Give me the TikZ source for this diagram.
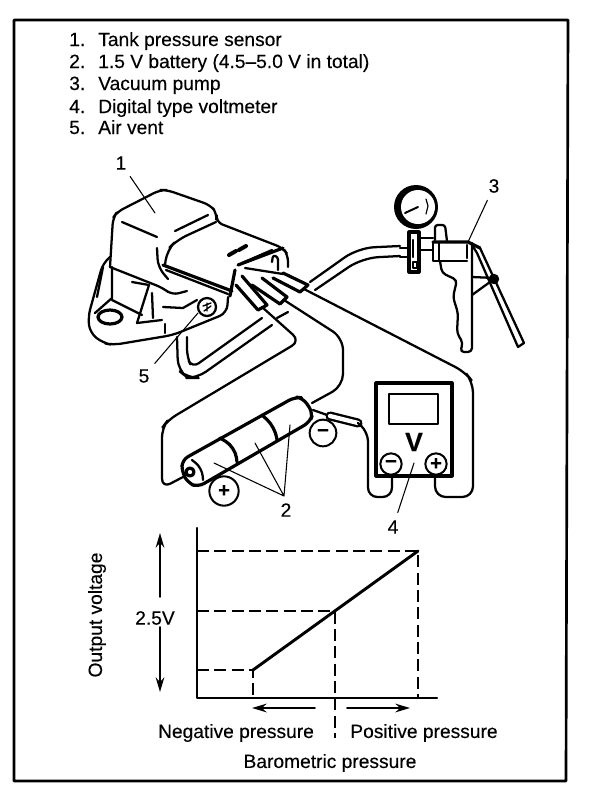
\documentclass[tikz,border=0pt]{standalone}
\usepackage{fontspec}
\setmainfont[FakeBold=0.25]{Liberation Sans}
\usepackage{tikz}
\usetikzlibrary{arrows.meta}

\begin{document}
\begin{tikzpicture}
		[x=0.75pt,y=-0.75pt,line cap=round,line join=round,
		%Styles
		frame line/.style={line width=2pt},
		part line/.style={line width=1.7pt},
		heavy line/.style={line width=2.4pt},
		leader/.style={line width=0.8pt,shorten <=6pt},
		axis line/.style={line width=1.8pt},
		dash line/.style={line width=1.5pt,dash pattern=on 9pt off 4pt,line cap=butt},
		range arrow/.style={line width=1.3pt,-{Stealth[length=11pt,width=6.5pt]}},
		plain text/.style={font=\fontsize{14.4}{16}\selectfont,inner sep=0pt},
		list text/.style={plain text,anchor=base west},
		sign/.style={circle,draw,line width=1.5pt,fill=white,inner sep=0pt,minimum size=#1,font=\fontsize{15}{15}\selectfont\bfseries}
		]
		
		\useasboundingbox (0,0) rectangle (608,794);
		
		%The frame
		\draw[frame line] (14,20) -- (568,20) -- (566,781) -- (14,781) -- cycle;
		
		%The list
		\foreach \num/\txt/\ypos in {1/Tank pressure sensor/46,
			2/1.5 V battery (4.5--5.0 V in total)/68,
			3/Vacuum pump/90,
			4/Digital type voltmeter/113,
			5/Air vent/134}
		{
			\node[list text] (num\num) at (69,\ypos) {\num.};
			\node[list text] (item\num) at (98,\ypos) {\txt};
		}
		
		%The sensor
		\draw[part line,rounded corners=5pt] (110,267) -- (113,218) -- (117,212) -- (160,190) -- (167,190) -- (210,205) -- (217,213) -- (216,222) -- (283,248) -- (288,255) -- (288,267);
		\draw[part line] (122,222) -- (157,237) (175,231) -- (208,215);
		\draw[part line,rounded corners=5pt] (110,267) -- (163,288) -- (172,295) -- (187,291);
		\draw[part line,rounded corners=6pt] (157,248) -- (158,267) -- (168,279);
		\draw[part line,rounded corners=8pt] (165,265) -- (167,250) -- (177,240) -- (216,222);
		\draw[heavy line] (163,265) -- (232,291);
		\draw[part line] (166,270) -- (228,294);
		\draw[heavy line] (238,265) -- (283,248);
		\draw[heavy line] (235,270) -- (230,296);
		\draw[part line] (242,263) -- (272,250);
		\draw[part line,rounded corners=2pt] (272,262) -- (273,255) -- (278,257) -- (278,270);
		\draw[line width=3pt] (229,255) -- (236,251) (239,250) -- (246,246);
		
		%The base plate
		\draw[part line,rounded corners=6pt] (110,257) -- (103,263) -- (88,317) -- (90,333) -- (103,343) -- (113,345) -- (173,335) -- (227,313) -- (228,297);
		\draw[line width=2.4pt] (110,317) ellipse (12 and 7);
		\draw[part line] (112,267) -- (112,298) -- (95,313);
		\draw[part line] (112,300) -- (142,315);
		\draw[part line] (103,267) -- (97,297);
		\draw[part line] (132,282) -- (149,285) -- (137,323) -- (162,320);
		\draw[part line] (152,293) -- (153,318);
		\draw[part line] (163,307) -- (183,308) -- (197,300);
		\draw[part line] (165,324) -- (165,333);
		\draw[part line] (207,307) circle (9);
		\draw[line width=1pt] (203,306) -- (211,303) (204,311) -- (211,306) (207,303) -- (207,311);
		
		%The terminals and wires leaving the connector
		\draw[heavy line] (283,273) -- (308,285) -- (300,292) -- (273,278);
		\draw[heavy line] (262,278) -- (287,297) -- (280,304) -- (252,285);
		\draw[heavy line] (242,276) -- (267,305) -- (258,310) -- (236,285);
		\draw[part line] (245,268) -- (283,274);
		\draw[part line] (277,318) -- (288,312);
		\draw[part line,rounded corners=8pt] (304,289) -- (465,372) -- (473,382) -- (473,497) -- (435,497) -- (435,477);
		\draw[part line,rounded corners=9pt] (284,300) -- (343,338) -- (343,386) -- (312,403);
		\draw[part line,rounded corners=7pt] (262,307) -- (300,341) -- (168,420) -- (162,428) -- (162,488) -- (183,477);
		\draw[part line,rounded corners=8pt] (177,337) -- (178,370) -- (188,378) -- (197,378) -- (272,325);
		\draw[part line,rounded corners=6pt] (187,337) -- (187,357) -- (192,368) -- (262,318);
		
		%The hose and the pump
		\draw[part line,rounded corners=12pt] (310,282) -- (358,248) -- (400,246);
		\draw[part line,rounded corners=12pt] (315,290) -- (362,258) -- (400,256);
		\draw[part line] (400,248) -- (409,248) (400,257) -- (409,257) (419,238) -- (433,238) (419,250) -- (433,250);
		\fill (416,207) circle (22);
		\fill[white] (418,207) circle (17);
		\draw[line width=1.5pt] (405,213) -- (418,207);
		\draw[line width=0.9pt] (426,199) -- (428,206) -- (426,214);
		\draw[heavy line] (409,232) rectangle (419,272);
		\draw[part line] (413,240) -- (413,257);
		\draw[part line] (413,262) rectangle (417,268);
		\draw[part line,rounded corners=2pt] (435,240) -- (435,225) -- (445,225) -- (447,241);
		\draw[heavy line] (433,242) -- (468,242) -- (480,248);
		\draw[part line] (433,242) -- (433,261) -- (467,261) (439,242) -- (439,261) (467,245) -- (467,258);
		\draw[part line,rounded corners=3pt] (440,261) -- (442,273) -- (457,280) -- (453,297) -- (458,313) -- (457,333) -- (463,343) -- (460,352) -- (472,352) -- (472,243);
		\draw[part line] (480,248) -- (524,343) -- (518,347) -- (477,253) -- (472,245);
		\draw[part line] (472,277) -- (495,278) (472,295) -- (490,282);
		\draw[part line,fill=black] (494,279) circle (4);
		
		%The battery
		\draw[heavy line,fill=white,rounded corners=5pt] (182,460) -- (295,397) -- (303,398) -- (313,413) -- (310,422) -- (198,487) -- (188,483) -- (182,472) -- cycle;
		\draw[heavy line,rounded corners=8pt] (220,438) -- (235,447) -- (237,462);
		\draw[heavy line,rounded corners=8pt] (262,415) -- (275,427) -- (277,440);
		\draw[part line,rounded corners=6pt] (192,460) -- (202,468) -- (203,480);
		\draw[heavy line,fill=white] (190,472) circle (4);
		\node[sign=22] (plus) at (224,491) {+};
		\node[sign=20] (minus) at (323,433) {\char"2212};
		
		%The probe and the voltmeter
		\draw[part line] (313,410) -- (330,416);
		\draw[line width=6.8pt] (330,416) -- (358,423);
		\draw[line width=3.2pt,white] (330,416) -- (358,423);
		\draw[part line,rounded corners=7pt] (358,423) -- (368,432) -- (368,497) -- (392,497) -- (392,477);
		\draw[heavy line] (376,383) rectangle (452,476);
		\draw[part line] (389,394) rectangle (438,424);
		\node[font=\fontsize{20}{20}\selectfont\bfseries,inner sep=0pt] (volt) at (414,442) {V};
		\node[sign=16] (vminus) at (391,464) {\char"2212};
		\node[sign=16] (vplus) at (436,464) {+};
		
		%The numbers and their leaders
		\node[plain text] (lbl1) at (121,163) {1};
		\node[plain text] (lbl2) at (286,510) {2};
		\node[plain text] (lbl3) at (494,186) {3};
		\node[plain text] (lbl4) at (393,527) {4};
		\node[plain text] (lbl5) at (144,376) {5};
		\coordinate (end1) at (155,213);
		\coordinate (end2a) at (214,463);
		\coordinate (end2b) at (255,443);
		\coordinate (end2c) at (290,425);
		\coordinate (end3) at (468,242);
		\coordinate (end4) at (414,463);
		\coordinate (end5) at (198,313);
		\draw[leader] (lbl1) -- (end1);
		\draw[leader] (lbl3) -- (end3);
		\draw[leader] (lbl4) -- (end4);
		\draw[leader] (lbl5) -- (end5);
		\coordinate (join2) at (284,496);
		\draw[leader,shorten <=0pt] (join2) -- (end2a) (join2) -- (end2b) (join2) -- (end2c);
		
		%The graph
		\coordinate (origin) at (197,698);
		\coordinate (ytop) at (197,528);
		\coordinate (xend) at (437,698);
		\coordinate (low) at (253,670);
		\coordinate (mid) at (335,611);
		\coordinate (high) at (418,551);
		\draw[axis line] (ytop) -- (origin) -- (xend);
		\draw[line width=2.2pt] (low) -- (high);
		\draw[dash line] (origin |- high) -- (high) -- (high |- origin);
		\draw[dash line] (origin |- mid) -- (mid) -- (335,738);
		\draw[dash line] (origin |- low) -- (low) -- (low |- origin);
		
		\node[plain text,rotate=90] (outv) at (97,615) {Output voltage};
		\node[plain text] (volts) at (155,618) {2.5V};
		\draw[range arrow] (160,597) -- (160,533);
		\draw[range arrow] (160,627) -- (160,692);
		\draw[range arrow] (315,708) -- (252,708);
		\draw[range arrow] (347,708) -- (410,708);
		\node[plain text] (neg) at (236,733) {Negative pressure};
		\node[plain text] (pos) at (424,733) {Positive pressure};
		\node[plain text] (baro) at (330,763) {Barometric pressure};
	\end{tikzpicture}
\end{document}
